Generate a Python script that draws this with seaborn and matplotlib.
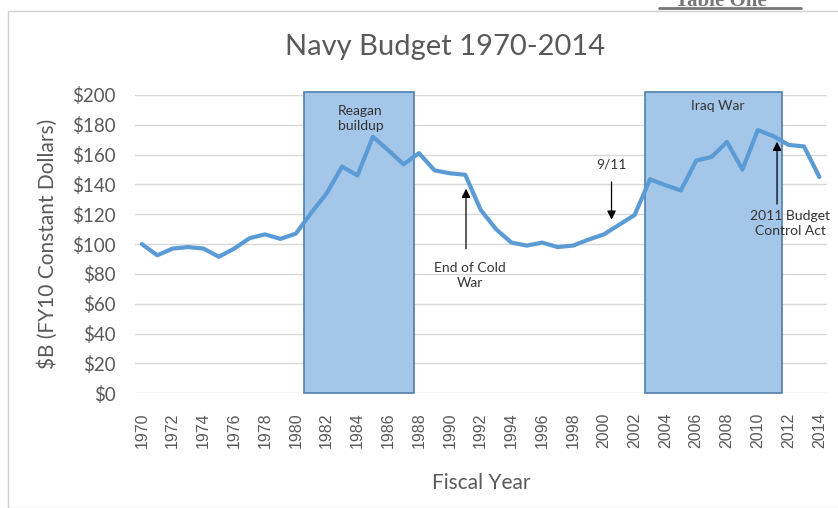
import numpy as np
import pandas as pd
import matplotlib.pyplot as plt
import matplotlib.patches as mpatches
import seaborn as sns

# Navy budget, $B in FY10 constant dollars
years = list(range(1970, 2015))
budget = [100, 92.5, 97, 98, 97, 91.5, 97, 104, 106.5, 103.5, 107,
          121, 134, 152, 146, 172, 163, 153.5, 161, 149.5, 147.5,
          146.5, 123, 110, 101, 99, 101, 98, 99, 103, 106.5,
          113, 119.5, 143.5, 139.5, 136, 156, 158.5, 168.5, 150, 176.5,
          172.5, 166.5, 165.5, 145]

# Shaded periods: (start, end, label, label x, label y)
periods = [(1980.5, 1987.7, 'Reagan\nbuildup', 1984.2, 184.5),
           (2002.7, 2011.6, 'Iraq War', 2007.4, 192.6)]
# Arrow annotations: (label, arrow x, tip y, tail y, text x, text y)
events = [('End of Cold\nWar', 1991.05, 139, 95, 1991.3, 79),
          ('9/11', 2000.5, 114.5, 143.5, 2000.5, 153.5),
          ('2011 Budget\nControl Act', 2011.25, 170.5, 125, 2012.1, 114)]

df = pd.DataFrame({'Year': years, 'Budget': budget})

sns.set_theme(style="whitegrid")
plt.rcParams['font.family'] = ['Lato', 'DejaVu Sans']

fig = plt.figure(figsize=(8.38, 5.08), dpi=100)
ax = fig.add_axes([0.161, 0.226, 0.826, 0.587])

for x0, x1, label, lx, ly in periods:
    ax.add_patch(mpatches.Rectangle((x0, 0), x1 - x0, 202, facecolor='#a4c6e8',
                                    edgecolor='#4f7fae', linewidth=1.2, zorder=1,
                                    clip_on=False))
    ax.text(lx, ly, label, ha='center', va='center', fontsize=10,
            color='#333333', linespacing=1.3)

sns.lineplot(data=df, x='Year', y='Budget', ax=ax, color='#5b9bd5', linewidth=3, zorder=3)

for label, x, tip, tail, tx, ty in events:
    ax.annotate('', xy=(x, tip), xytext=(x, tail),
                arrowprops=dict(arrowstyle='-|>', color='black', lw=0.9,
                                mutation_scale=13), zorder=4)
    ax.text(tx, ty, label, ha='center', va='center', fontsize=10,
            color='#333333', linespacing=1.3)

ax.set_xlim(1969.55, 2014.5)
ax.set_ylim(0, 200)
ax.set_xticks(years[::2])
ax.set_xticklabels([str(y) for y in years[::2]], rotation=90, fontsize=11.5,
                   color='#595959', family=['Liberation Sans'])
ax.set_yticks(range(0, 201, 20))
ax.set_yticklabels([f'${v}' for v in range(0, 201, 20)], fontsize=13.5, color='#595959')
ax.tick_params(axis='x', length=0, pad=14)
ax.tick_params(axis='y', length=0, pad=14)
ax.grid(axis='x', visible=False)
ax.grid(axis='y', color='#d9d9d9', linewidth=1)
ax.set_facecolor('white')
for s in ax.spines.values():
    s.set_visible(False)

ax.set_xlabel('Fiscal Year', fontsize=15, color='#595959', labelpad=18)
ax.set_ylabel('$B (FY10 Constant Dollars)', fontsize=15, color='#595959', labelpad=10)
fig.text(0.531, 0.907, 'Navy Budget 1970-2014', ha='center', va='center',
         fontsize=21, color='#595959')

# outer chart frame and cut-off page heading
fig.add_artist(mpatches.Rectangle((0.01, 0.0), 1.0, 0.978, transform=fig.transFigure,
                                  fill=False, edgecolor='#d0d0d0', linewidth=1))
fig.text(0.86, 0.998, 'Table One', ha='center', va='center', fontsize=15,
         color='#777777', family=['Liberation Serif'], fontweight='bold')
fig.add_artist(plt.Line2D([0.786, 0.956], [0.985, 0.985], transform=fig.transFigure,
                          color='#777777', linewidth=2))

fig.savefig('out.png', dpi=100)
